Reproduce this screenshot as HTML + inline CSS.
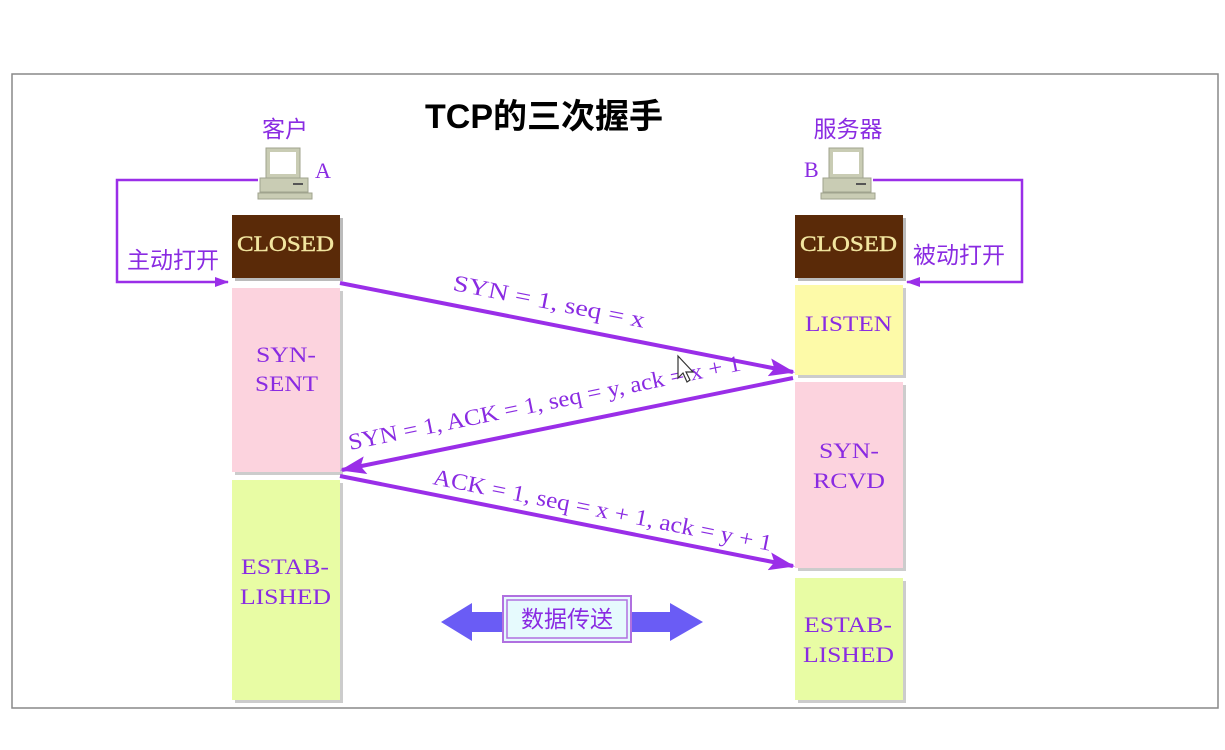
<!DOCTYPE html>
<html><head><meta charset="utf-8"><style>
body{margin:0;background:#fff;width:1225px;height:750px;overflow:hidden}
svg{display:block}
.s{font-family:"Liberation Serif","Noto Serif CJK SC",serif;fill:#8a2be2}
.c{font-family:"Liberation Sans","Noto Sans CJK SC",sans-serif;fill:#8a2be2}
</style></head><body>
<svg width="1225" height="750" viewBox="0 0 1225 750">
<defs>
<marker id="ah" markerWidth="14" markerHeight="10" refX="13" refY="5" orient="auto" markerUnits="userSpaceOnUse"><path d="M0,0 L14,5 L0,10 Z" fill="#9a2ee8"/></marker>
<marker id="ab" markerWidth="26" markerHeight="18" refX="24" refY="9" orient="auto" markerUnits="userSpaceOnUse"><path d="M0,0 L26,9 L0,18 L5,9 Z" fill="#9a2ee8"/></marker>
<g id="pc">
<rect x="8" y="0" width="34" height="30" fill="#c9ccb4" stroke="#a0a38e"/>
<rect x="12" y="4" width="26" height="22" fill="#fff"/>
<rect x="2" y="30" width="48" height="14" fill="#c9ccb4" stroke="#a0a38e"/>
<rect x="35" y="35" width="10" height="2" fill="#555"/>
<rect x="0" y="45" width="54" height="6" fill="#c9ccb4" stroke="#a0a38e"/>
</g>
</defs>
<rect x="12" y="74" width="1206" height="634" fill="#fff" stroke="#888" stroke-width="1.5"/>
<text x="544" y="128" text-anchor="middle" font-family="Liberation Sans,Noto Sans CJK SC,sans-serif" font-weight="bold" font-size="34" fill="#000">TCP的三次握手</text>
<text x="285" y="137" text-anchor="middle" class="c" font-size="23">客户</text>
<text x="848" y="137" text-anchor="middle" class="c" font-size="23">服务器</text>
<use href="#pc" x="258" y="148"/>
<use href="#pc" x="821" y="148"/>
<text x="315" y="178" class="s" font-size="22">A</text>
<text x="804" y="177" class="s" font-size="22">B</text>
<polyline points="258,180 117,180 117,282 228,282" fill="none" stroke="#9a2ee8" stroke-width="2.5" marker-end="url(#ah)"/>
<polyline points="873,180 1022,180 1022,282 907,282" fill="none" stroke="#9a2ee8" stroke-width="2.5" marker-end="url(#ah)"/>
<text x="127" y="268" class="c" font-size="23">主动打开</text>
<text x="913" y="263" class="c" font-size="23">被动打开</text>
<rect x="235" y="218" width="108" height="63" fill="#bbb"/>
<rect x="232" y="215" width="108" height="63" fill="#5a2a08"/>
<rect x="235" y="291" width="108" height="184" fill="#ccc"/>
<rect x="232" y="288" width="108" height="184" fill="#fcd3de"/>
<rect x="235" y="483" width="108" height="220" fill="#ccc"/>
<rect x="232" y="480" width="108" height="220" fill="#e8fca4"/>
<rect x="798" y="218" width="108" height="63" fill="#bbb"/>
<rect x="795" y="215" width="108" height="63" fill="#5a2a08"/>
<rect x="798" y="288" width="108" height="90" fill="#ccc"/>
<rect x="795" y="285" width="108" height="90" fill="#fdfaa8"/>
<rect x="798" y="385" width="108" height="186" fill="#ccc"/>
<rect x="795" y="382" width="108" height="186" fill="#fcd3de"/>
<rect x="798" y="581" width="108" height="122" fill="#ccc"/>
<rect x="795" y="578" width="108" height="122" fill="#e8fca4"/>
<g font-family="Liberation Serif,serif" font-size="22" fill="#f2e6a0" stroke="#f2e6a0" stroke-width="0.4">
<text x="237" y="251" textLength="97" lengthAdjust="spacingAndGlyphs">CLOSED</text>
<text x="800" y="251" textLength="97" lengthAdjust="spacingAndGlyphs">CLOSED</text>
</g>
<g class="s" font-size="22">
<text x="256" y="362" textLength="60" lengthAdjust="spacingAndGlyphs">SYN-</text>
<text x="255" y="391" textLength="63" lengthAdjust="spacingAndGlyphs">SENT</text>
<text x="241" y="574" textLength="88" lengthAdjust="spacingAndGlyphs">ESTAB-</text>
<text x="240" y="604" textLength="91" lengthAdjust="spacingAndGlyphs">LISHED</text>
<text x="805" y="331" textLength="87" lengthAdjust="spacingAndGlyphs">LISTEN</text>
<text x="819" y="458" textLength="60" lengthAdjust="spacingAndGlyphs">SYN-</text>
<text x="813" y="488" textLength="72" lengthAdjust="spacingAndGlyphs">RCVD</text>
<text x="804" y="632" textLength="88" lengthAdjust="spacingAndGlyphs">ESTAB-</text>
<text x="803" y="662" textLength="91" lengthAdjust="spacingAndGlyphs">LISHED</text>
</g>
<line x1="340" y1="283" x2="793" y2="372" stroke="#9a2ee8" stroke-width="4" marker-end="url(#ab)"/>
<line x1="793" y1="378" x2="342" y2="470" stroke="#9a2ee8" stroke-width="4" marker-end="url(#ab)"/>
<line x1="340" y1="476" x2="793" y2="566" stroke="#9a2ee8" stroke-width="4" marker-end="url(#ab)"/>
<text class="s" font-size="23" transform="translate(452,290) rotate(11.2)" textLength="195" lengthAdjust="spacingAndGlyphs">SYN = 1, seq = x</text>
<text class="s" font-size="23" transform="translate(350,450) rotate(-11.5)" textLength="400" lengthAdjust="spacingAndGlyphs">SYN = 1, ACK = 1, seq = y, ack = x + 1</text>
<text class="s" font-size="23" transform="translate(432,484) rotate(11.2)" textLength="345" lengthAdjust="spacingAndGlyphs">ACK = 1, seq = x + 1, ack = y + 1</text>
<path d="M441,622 L472,603 L472,612 L670,612 L670,603 L703,622 L670,641 L670,632 L472,632 L472,641 Z" fill="#6a5cf5"/>
<rect x="503" y="596" width="128" height="46" fill="#e6fafd" stroke="#b070e0" stroke-width="2"/>
<rect x="507" y="600" width="120" height="38" fill="none" stroke="#b070e0" stroke-width="1.5"/>
<text x="567" y="627" text-anchor="middle" class="c" font-size="23">数据传送</text>
<path d="M678,356 L678,378 L683,373 L687,382 L690,380 L686,372 L693,372 Z" fill="#fff" stroke="#333" stroke-width="1.2"/>
</svg>
</body></html>
